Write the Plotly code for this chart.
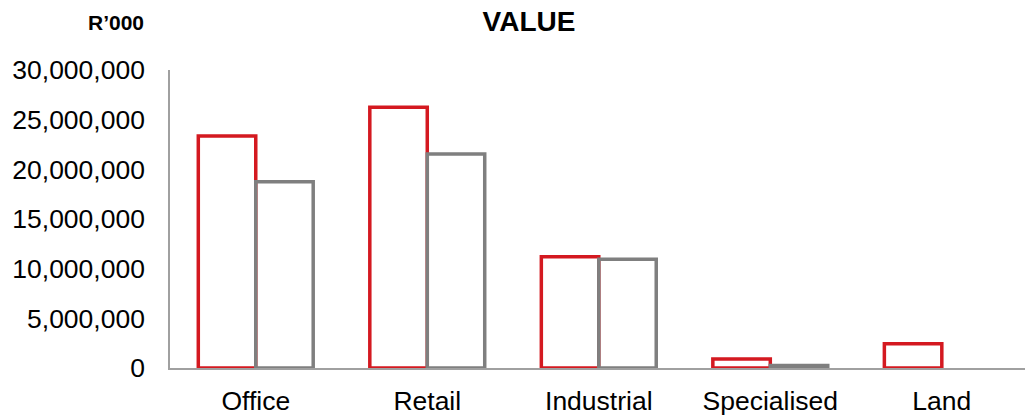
import plotly.graph_objects as go

# Property sectors and their values (R'000)
categories = ["Office", "Retail", "Industrial", "Specialised", "Land"]
series_a = [23350000, 26250000, 11200000, 900000, 2450000]
series_b = [18750000, 21550000, 10950000, 250000, None]
y_ticks = [0, 5000000, 10000000, 15000000, 20000000, 25000000, 30000000]
y_tick_labels = ["0", "5,000,000", "10,000,000", "15,000,000", "20,000,000", "25,000,000", "30,000,000"]

RED = "#d41920"
GREY = "#7f7f7f"
FONT = "Liberation Sans, Arial, sans-serif"

fig = go.Figure()
fig.add_trace(go.Bar(
    x=categories, y=series_a,
    marker=dict(color="rgba(255,255,255,0)", line=dict(color=RED, width=3.5)),
))
fig.add_trace(go.Bar(
    x=categories, y=series_b,
    marker=dict(color="rgba(255,255,255,0)", line=dict(color=GREY, width=3.5)),
))

fig.update_layout(
    width=1025, height=418,
    margin=dict(l=170, r=0, t=70, b=50),
    paper_bgcolor="white", plot_bgcolor="white",
    barmode="group", bargap=0.33, bargroupgap=0,
    showlegend=False,
    font=dict(family=FONT, color="black"),
    title=dict(text="<b>VALUE</b>", x=529 / 1025, xanchor="center",
               y=1 - 21 / 418, yanchor="middle",
               font=dict(size=28, family=FONT, color="black")),
    annotations=[dict(text="<b>R’000</b>", xref="paper", yref="paper",
                      x=-24 / 855, y=1 + 48 / 298, xanchor="right", yanchor="middle",
                      showarrow=False, font=dict(size=21, family=FONT, color="black"))],
)
fig.update_xaxes(
    range=[-0.5, 4.485], showgrid=False, zeroline=False,
    showline=True, linecolor="#a0a0a0", linewidth=1.5,
    ticks="", tickfont=dict(size=26.5, family=FONT, color="black"),
    ticklabelstandoff=8,
)
fig.update_yaxes(
    range=[0, 30000000], showgrid=False, zeroline=False,
    showline=True, linecolor="#a0a0a0", linewidth=1.5,
    tickvals=y_ticks, ticktext=y_tick_labels,
    ticks="", tickfont=dict(size=26.5, family=FONT, color="black"),
    ticklabelstandoff=18,
)

fig.write_html("out.html")
